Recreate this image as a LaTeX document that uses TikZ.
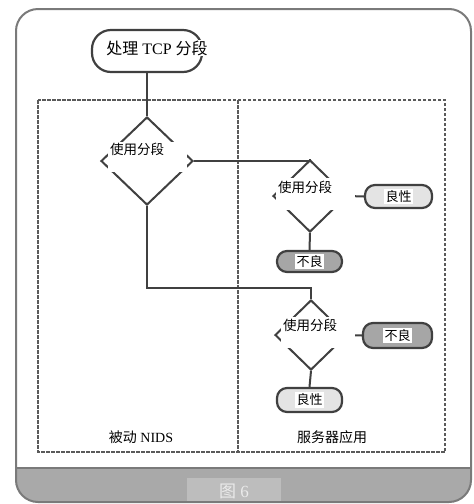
\documentclass[tikz,border=0pt]{standalone}
\usepackage{fontspec}
\setmainfont{Liberation Serif}
\newfontfamily\cjk{Noto Sans CJK SC}
\usetikzlibrary{shapes.geometric}
\definecolor{linegray}{HTML}{404040}
\definecolor{framegray}{HTML}{7A7A7A}
\definecolor{dashgray}{HTML}{5A5A5A}
\definecolor{bandgray}{HTML}{A9A9A9}
\definecolor{capgray}{HTML}{BDBDBD}
\definecolor{lightpill}{HTML}{E4E4E4}
\definecolor{darkpill}{HTML}{A6A6A6}
\tikzset{
  conn/.style={draw=linegray, line width=2pt},
  dec/.style={shape=diamond, draw=linegray, line width=2pt, inner sep=0pt},
  pill/.style={rectangle, rounded corners=10pt, draw=linegray, line width=2.2pt, inner sep=0pt},
  wbox/.style={fill=white, inner sep=0pt},
  dtext/.style={anchor=west, inner sep=0pt, font=\cjk\fontsize{13.5}{14}\selectfont},
  ptext/.style={fill=white, inner sep=1.5pt, font=\cjk\fontsize{13}{14}\selectfont},
  zone/.style={draw=dashgray, line width=2.2pt, dash pattern=on 3.5pt off 1.5pt},
}
\begin{document}
\begin{tikzpicture}[x=1pt,y=-1pt]
\useasboundingbox (0,0) rectangle (474,504);
% outer frame and caption band
\fill[white, rounded corners=22pt] (16,9) rectangle (471,502);
\begin{scope}
  \clip[rounded corners=22pt] (16,9) rectangle (471,502);
  \fill[bandgray] (0,468) rectangle (474,504);
  \fill[capgray] (187,478) rectangle (281,504);
\end{scope}
\draw[framegray, line width=1.2pt] (16,468) -- (471,468);
\draw[framegray, line width=2pt, rounded corners=22pt] (16,9) rectangle (471,502);
\node[text=white!92!black, font=\fontsize{17}{18}\selectfont] (cap) at (234,491) {{\cjk 图} 6};
% zones
\draw[zone] (38,100) rectangle (445,452);
\draw[zone] (238,100) -- (238,452);
\node[font=\fontsize{14}{16}\selectfont] (zl) at (141,437) {{\cjk 被动} NIDS};
\node[font=\cjk\fontsize{14}{16}\selectfont] (zr) at (332,437) {服务器应用};
% shapes
\node[pill, rounded corners=19pt, minimum width=110pt, minimum height=42pt] (start) at (147,51) {};
\node[dec, minimum width=92pt, minimum height=88pt] (d1) at (147,161) {};
\node[dec, minimum width=74pt, minimum height=72pt] (d2) at (310,196) {};
\node[dec, minimum width=72pt, minimum height=70pt] (d3) at (311,335) {};
\node[pill, fill=lightpill, minimum width=67pt, minimum height=23pt] (g1) at (398.5,196.5) {};
\node[pill, fill=darkpill, minimum width=65pt, minimum height=21pt] (b1) at (309.5,261.5) {};
\node[pill, fill=darkpill, minimum width=69pt, minimum height=25pt] (b2) at (397.5,335.5) {};
\node[pill, fill=lightpill, minimum width=65pt, minimum height=24pt] (g2) at (309.5,400) {};
% connectors
\draw[conn] (start.south) -- (d1.north);
\draw[conn] (d1.east) -| (d2.north);
\draw[conn] (d2.east) -- (g1.west);
\draw[conn] (d2.south) -- (b1.north);
\draw[conn] (d1.south) -- ++(0,82) -| (d3.north);
\draw[conn] (d3.east) -- (b2.west);
\draw[conn] (d3.south) -- (g2.north);
% texts
\node[fill=white, inner sep=1pt, font=\fontsize{16}{18}\selectfont] (st) at (157,48) {{\cjk 处理} TCP {\cjk 分段}};
\node[wbox, minimum width=79pt, minimum height=30pt] (d1b) at (147.5,157) {};
\node[dtext] (d1t) at (110,149) {使用分段};
\node[wbox, minimum width=79pt, minimum height=32pt] (d2b) at (315.5,194) {};
\node[dtext] (d2t) at (278,187) {使用分段};
\node[wbox, minimum width=74pt, minimum height=31pt] (d3b) at (318,332.5) {};
\node[dtext] (d3t) at (283,325) {使用分段};
\node[ptext] (g1t) at (g1) {良性};
\node[ptext] (b1t) at (b1) {不良};
\node[ptext] (b2t) at (b2) {不良};
\node[ptext] (g2t) at (g2) {良性};
\end{tikzpicture}
\end{document}
